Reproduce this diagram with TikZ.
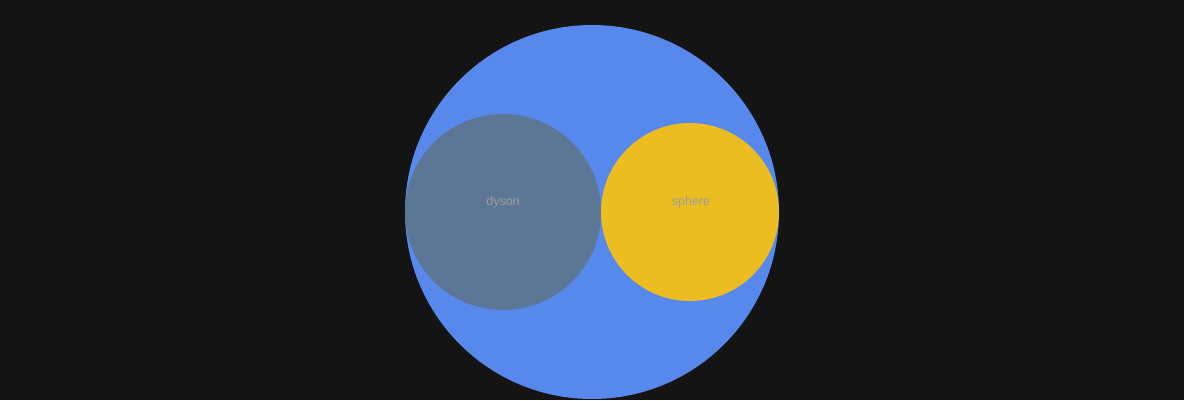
\documentclass[tikz,border=0pt]{standalone}
\usepackage{fontspec}
\setmainfont{Liberation Sans}
\definecolor{bg}{HTML}{141414}
\definecolor{outer}{HTML}{5789EC}
\definecolor{dysonc}{HTML}{5C7696}
\definecolor{spherec}{HTML}{ECBD20}
\definecolor{txt}{HTML}{9E9E9E}
\tikzset{
  bubble/.style={circle, inner sep=0pt, draw=none},
  lbl/.style={text=txt, font=\fontsize{12.5pt}{14pt}\selectfont, inner sep=0pt}
}
\begin{document}
\begin{tikzpicture}[x=1pt,y=-1pt]
\useasboundingbox[fill=bg] (0,0) rectangle (1184,400);
\node[bubble, fill=outer, minimum size=374pt] (root) at (592,212) {};
\node[bubble, fill=dysonc, minimum size=196pt] (dyson) at (503,212) {};
\node[bubble, fill=spherec, minimum size=178pt] (sphere) at (690,212) {};
\node[lbl] (dysonlbl) at (503,202) {dyson};
\node[lbl] (spherelbl) at (691,202) {sphere};
\end{tikzpicture}
\end{document}
